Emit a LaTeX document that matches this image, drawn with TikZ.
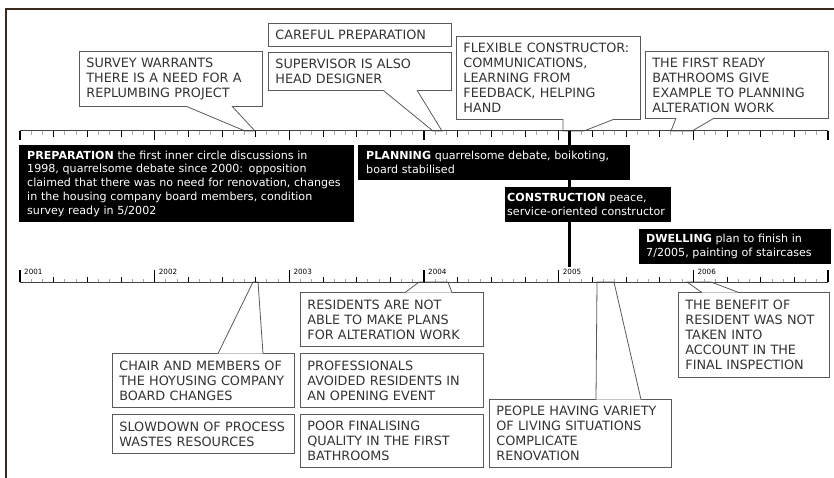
\documentclass[tikz,border=0pt]{standalone}
\usepackage{fontspec}
\setmainfont{DejaVu Sans}
\usetikzlibrary{calc}

\definecolor{framebrown}{HTML}{3B2A1E}
\definecolor{boxgray}{HTML}{5A5A5A}
\definecolor{notetext}{HTML}{333333}
\definecolor{rulegray}{HTML}{444444}
\definecolor{monthgray}{HTML}{A8A8A8}

\tikzset{
  note/.style={draw=boxgray, line width=0.8pt, fill=white, text=notetext,
    font=\fontsize{12.8}{15}\selectfont, align=left, anchor=north west,
    inner xsep=7pt, inner ysep=0pt, text width=169pt},
  pointer/.style={draw=boxgray, line width=0.8pt, fill=white},
  phase/.style={fill=black, text=white, font=\fontsize{11.1}{13.8}\selectfont,
    align=left, anchor=north west, inner ysep=0pt, minimum height=35pt},
  ruleline/.style={draw=rulegray, line width=1pt},
  monthtick/.style={draw=monthgray, line width=0.8pt},
  quartertick/.style={draw=black, line width=1pt},
  yeartick/.style={draw=black, line width=1.4pt},
}

\begin{document}
\begin{tikzpicture}[x=1pt,y=-1pt]
    \useasboundingbox (0,0) rectangle (834,478);
    \draw [framebrown,line width=2pt] (834,9) -- (6,9) -- (6,478);

    % tips of the pointers on the two rulers
    \coordinate (survey-a) at (245,131);
    \coordinate (survey-b) at (255,131);
    \coordinate (supervisor-a) at (433,131);
    \coordinate (supervisor-b) at (442,131);
    \coordinate (flexible-a) at (563,131);
    \coordinate (flexible-b) at (584,131);
    \coordinate (ready-a) at (671,131);
    \coordinate (ready-b) at (692,131);
    \coordinate (residents-a) at (419,282);
    \coordinate (residents-b) at (448,282);
    \coordinate (chair-a) at (253,282);
    \coordinate (chair-b) at (258,282);
    \coordinate (people-a) at (597,282);
    \coordinate (people-b) at (614,282);
    \coordinate (benefit-a) at (687,282);
    \coordinate (benefit-b) at (711,282);

    % upper notes
    \node [note,minimum height=23pt] (careful) at (268,23) {CAREFUL PREPARATION};
    \node [note,minimum height=55pt] (survey) at (79,51)
        {SURVEY WARRANTS\\THERE IS A NEED FOR A\\REPLUMBING PROJECT};
    \node [note,minimum height=38pt] (supervisor) at (268,52)
        {SUPERVISOR IS ALSO\\HEAD DESIGNER};
    \node [note,minimum height=83pt,text width=170pt] (flexible) at (456,36)
        {FLEXIBLE CONSTRUCTOR:\\COMMUNICATIONS,\\LEARNING FROM\\FEEDBACK, HELPING\\HAND};
    \node [note,minimum height=67pt] (ready) at (645,51)
        {THE FIRST READY\\BATHROOMS GIVE\\EXAMPLE TO PLANNING\\ALTERATION WORK};
    \path [pointer] ($(survey.south west)+(107,-0.6)$) -- (survey-a) -- (survey-b) -- ($(survey.south west)+(153,-0.6)$);
    \path [pointer] ($(supervisor.south west)+(115,-0.6)$) -- (supervisor-a) -- (supervisor-b) -- ($(supervisor.south west)+(149,-0.6)$);
    \path [pointer] ($(flexible.south west)+(107,-0.6)$) -- (flexible-a) -- (flexible-b) -- ($(flexible.south west)+(158,-0.6)$);
    \path [pointer] ($(ready.south west)+(31,-0.6)$) -- (ready-a) -- (ready-b) -- ($(ready.south west)+(69,-0.6)$);

    % lower notes
    \node [note,minimum height=54pt] (residents) at (300,292)
        {RESIDENTS ARE NOT\\ABLE TO MAKE PLANS\\FOR ALTERATION WORK};
    \node [note,minimum height=54pt,text width=168pt] (chair) at (112,353)
        {CHAIR AND MEMBERS OF\\THE HOYUSING COMPANY\\BOARD CHANGES};
    \node [note,minimum height=39pt,text width=168pt] (slowdown) at (112,414)
        {SLOWDOWN OF PROCESS\\WASTES RESOURCES};
    \node [note,minimum height=54pt] (professionals) at (300,353)
        {PROFESSIONALS\\AVOIDED RESIDENTS IN\\AN OPENING EVENT};
    \node [note,minimum height=53pt] (poor) at (300,414)
        {POOR FINALISING\\QUALITY IN THE FIRST\\BATHROOMS};
    \node [note,minimum height=68pt,text width=168pt] (people) at (489,399)
        {PEOPLE HAVING VARIETY\\OF LIVING SITUATIONS\\COMPLICATE\\RENOVATION};
    \node [note,minimum height=85pt,text width=137pt] (benefit) at (678,292)
        {THE BENEFIT OF\\RESIDENT WAS NOT\\TAKEN INTO\\ACCOUNT IN THE\\FINAL INSPECTION};
    \path [pointer] ($(residents.north west)+(105,0.6)$) -- (residents-a) -- (residents-b) -- ($(residents.north west)+(152,0.6)$);
    \path [pointer] ($(chair.north west)+(106,0.6)$) -- (chair-a) -- (chair-b) -- ($(chair.north west)+(151,0.6)$);
    \path [pointer] ($(people.north west)+(107,0.6)$) -- (people-a) -- (people-b) -- ($(people.north west)+(152,0.6)$);
    \path [pointer] ($(benefit.north west)+(24,0.6)$) -- (benefit-a) -- (benefit-b) -- ($(benefit.north west)+(61,0.6)$);

    % upper ruler, ticks hanging down
    \coordinate (upper-start) at (20,131);
    \coordinate (upper-end) at (828,131);
    \draw [ruleline] (upper-start) -- (upper-end);
    \foreach \m in {1,...,71}
        \draw [monthtick] ({20+\m*11.2222},131) -- ++(0,4);
    \foreach \q in {1,...,23}
        \draw [quartertick] ({20+\q*33.6667},131) -- ++(0,6);
    \foreach \y in {0,...,6}
        \draw [yeartick] ({20+\y*134.667},131) -- ++(0,9);

    % lower ruler, ticks standing up
    \coordinate (lower-start) at (20,282);
    \coordinate (lower-end) at (828,282);
    \draw [ruleline] (lower-start) -- (lower-end);
    \foreach \m in {1,...,71}
        \draw [monthtick] ({20+\m*11.2222},282) -- ++(0,-3);
    \foreach \q in {1,...,23}
        \draw [quartertick] ({20+\q*33.6667},282) -- ++(0,-5);
    \foreach \y in {0,...,6}
        \draw [yeartick] ({20+\y*134.667},282) -- ++(0,-12);
    \foreach \y in {0,...,5} {
        \pgfmathtruncatemacro\yr{2001+\y}
        \node [anchor=north west,inner sep=0pt,font=\fontsize{7.2}{8}\selectfont]
            (year-\yr) at ({24+\y*134.667},269) {\yr};
    }

    % start of construction
    \coordinate (build-top) at (569,131);
    \coordinate (build-bottom) at (569,267);
    \draw [line width=3pt] (build-top) -- (build-bottom);

    % phases
    \node [phase,text width=319pt,minimum height=77pt,inner xsep=8pt] (preparation) at (19,145)
        {\textbf{PREPARATION} the first inner circle discussions in\\1998, quarrelsome debate since 2000: opposition\\\mbox{claimed that there was no need for renovation, changes}\\in the housing company board members, condition\\survey ready in 5/2002};
    \node [phase,text width=256pt,inner xsep=8pt] (planning) at (358,145)
        {\textbf{PLANNING} quarrelsome debate, boikoting,\\board stabilised};
    \node [phase,text width=162pt,inner xsep=2pt] (construction) at (505,187)
        {\textbf{CONSTRUCTION} peace,\\service-oriented constructor};
    \node [phase,text width=178pt,inner xsep=7pt] (dwelling) at (639,229)
        {\textbf{DWELLING} plan to finish in\\7/2005, painting of staircases};
\end{tikzpicture}
\end{document}
